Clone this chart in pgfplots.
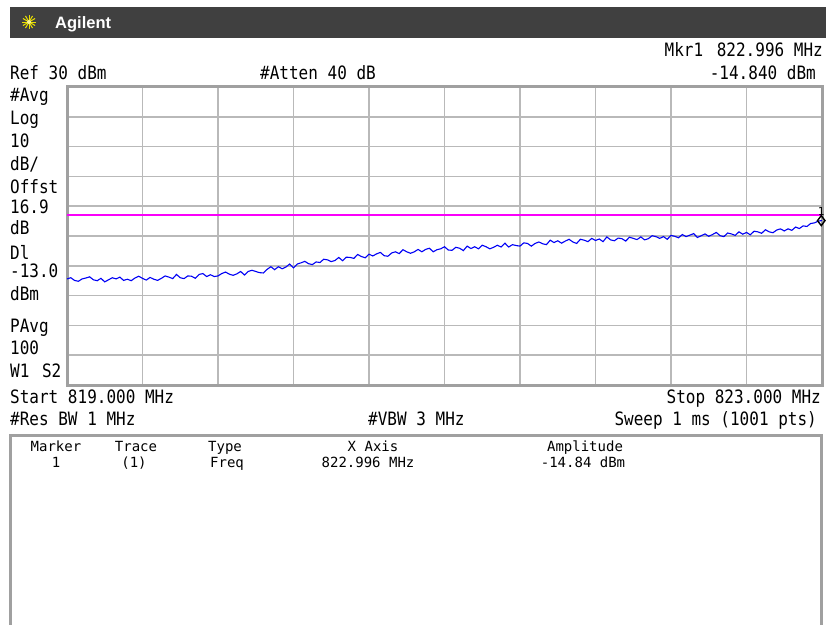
\documentclass[border=0pt]{standalone}
\usepackage{pgfplots}
\pgfplotsset{compat=1.18}
\usepackage{pgfplotstable}
\usepackage{fontspec}
\setmainfont{DejaVu Sans Mono}
\newfontfamily\brand{Liberation Sans}
\definecolor{hdr}{RGB}{64,64,64}
\definecolor{gridc}{RGB}{185,185,185}
\definecolor{framec}{RGB}{160,160,160}
\definecolor{tracec}{RGB}{0,0,245}
\definecolor{dlinec}{RGB}{250,0,250}
\definecolor{starc}{RGB}{235,225,0}
\newcommand\T[1]{{\fontsize{16}{16}\selectfont\scalebox{1}[1.15]{#1}}}
\newcommand\Tb[1]{{\fontsize{14}{14}\selectfont #1}}

% averaged trace, 819-823 MHz, dBm
\pgfplotstableread{
f p
819.00 -34.4
819.02 -34.0
819.04 -34.9
819.06 -35.2
819.08 -34.4
819.10 -34.1
819.12 -33.7
819.14 -34.7
819.16 -35.0
819.18 -34.2
819.20 -35.4
819.22 -34.7
819.24 -34.0
819.26 -34.4
819.28 -33.8
819.30 -34.9
819.32 -34.5
819.34 -35.0
819.36 -34.1
819.38 -33.5
819.40 -34.2
819.42 -34.8
819.44 -33.9
819.46 -34.5
819.48 -34.9
819.50 -34.2
819.52 -33.4
819.54 -33.8
819.56 -34.3
819.58 -32.9
819.60 -34.0
819.62 -34.3
819.64 -33.4
819.66 -33.5
819.68 -34.2
819.70 -32.9
819.72 -32.6
819.74 -33.6
819.76 -33.0
819.78 -33.6
819.80 -33.4
819.82 -32.6
819.84 -32.1
819.86 -32.8
819.88 -33.2
819.90 -32.7
819.92 -31.9
819.94 -33.1
819.96 -31.9
819.98 -31.5
820.00 -31.9
820.02 -32.3
820.04 -32.4
820.06 -31.2
820.08 -30.3
820.10 -31.3
820.12 -30.3
820.14 -31.0
820.16 -30.4
820.18 -29.4
820.20 -30.7
820.22 -29.4
820.24 -29.0
820.26 -28.5
820.28 -29.3
820.30 -29.6
820.32 -28.7
820.34 -28.9
820.36 -27.8
820.38 -28.0
820.40 -28.6
820.42 -28.2
820.44 -27.2
820.46 -28.3
820.48 -27.1
820.50 -27.2
820.52 -27.5
820.54 -26.2
820.56 -26.9
820.58 -27.3
820.60 -26.1
820.62 -26.7
820.64 -26.0
820.66 -25.5
820.68 -26.6
820.70 -26.8
820.72 -25.7
820.74 -25.3
820.76 -25.9
820.78 -24.6
820.80 -25.3
820.82 -25.8
820.84 -25.3
820.86 -24.5
820.88 -25.3
820.90 -24.5
820.92 -24.1
820.94 -25.3
820.96 -24.6
820.98 -24.3
821.00 -23.6
821.02 -24.7
821.04 -24.8
821.06 -23.8
821.08 -24.1
821.10 -24.9
821.12 -23.4
821.14 -24.2
821.16 -23.6
821.18 -24.3
821.20 -23.1
821.22 -23.6
821.24 -24.3
821.26 -23.8
821.28 -23.1
821.30 -23.7
821.32 -22.4
821.34 -23.7
821.36 -22.9
821.38 -23.2
821.40 -23.4
821.42 -22.3
821.44 -22.5
821.46 -23.4
821.48 -22.5
821.50 -22.0
821.52 -22.6
821.54 -22.9
821.56 -21.4
821.58 -22.2
821.60 -21.6
821.62 -22.4
821.64 -21.7
821.66 -21.1
821.68 -22.0
821.70 -22.5
821.72 -21.1
821.74 -21.4
821.76 -21.9
821.78 -20.8
821.80 -21.5
821.82 -21.0
821.84 -21.9
821.86 -20.3
821.88 -21.3
821.90 -21.6
821.92 -20.7
821.94 -20.9
821.96 -21.7
821.98 -20.4
822.00 -20.8
822.02 -21.2
822.04 -20.3
822.06 -21.3
822.08 -20.9
822.10 -19.9
822.12 -20.2
822.14 -20.8
822.16 -20.2
822.18 -21.1
822.20 -19.8
822.22 -20.1
822.24 -20.6
822.26 -19.5
822.28 -20.2
822.30 -19.7
822.32 -19.2
822.34 -20.5
822.36 -19.9
822.38 -19.3
822.40 -20.1
822.42 -19.5
822.44 -18.8
822.46 -19.9
822.48 -20.2
822.50 -19.0
822.52 -19.3
822.54 -19.8
822.56 -18.6
822.58 -19.4
822.60 -18.8
822.62 -19.6
822.64 -18.4
822.66 -18.6
822.68 -19.1
822.70 -17.9
822.72 -18.6
822.74 -18.9
822.76 -18.0
822.78 -17.6
822.80 -18.3
822.82 -17.6
822.84 -18.1
822.86 -17.0
822.88 -17.5
822.90 -16.6
822.92 -16.8
822.94 -15.8
822.96 -15.6
822.98 -15.0
823.00 -14.8
}\tracedata

\begin{document}
\begin{tikzpicture}
\path[use as bounding box] (0pt,0pt) rectangle (826pt,-624pt);

% title bar
\fill[hdr] (10pt,-7pt) rectangle (826pt,-38pt);
\foreach \a in {0,30,...,330}
  \draw[starc, line width=1pt] (29pt,-22pt) -- ++(\a:7pt);
\fill[white!60!starc] (29pt,-22pt) circle (2pt);
\node[anchor=base west, inner sep=0, text=white] at (55pt,-28pt)
  {\brand\bfseries\fontsize{16.5}{16}\selectfont Agilent};

% top annotations
\node[anchor=base east, inner sep=0] at (823pt,-56pt) {\T{Mkr1\hspace{4pt} 822.996 MHz}};
\node[anchor=base east, inner sep=0] at (816pt,-79pt) {\T{-14.840 dBm}};
\node[anchor=base west, inner sep=0] at (10pt,-79pt) {\T{Ref 30 dBm}};
\node[anchor=base west, inner sep=0] at (260pt,-79pt) {\T{\#Atten 40 dB}};

% left column
\node[anchor=base west, inner sep=0] at (10pt,-101pt) {\T{\#Avg}};
\node[anchor=base west, inner sep=0] at (10pt,-124pt) {\T{Log}};
\node[anchor=base west, inner sep=0] at (10pt,-147pt) {\T{10}};
\node[anchor=base west, inner sep=0] at (10pt,-170pt) {\T{dB/}};
\node[anchor=base west, inner sep=0] at (10pt,-193pt) {\T{Offst}};
\node[anchor=base west, inner sep=0] at (10pt,-213pt) {\T{16.9}};
\node[anchor=base west, inner sep=0] at (10pt,-234pt) {\T{dB}};
\node[anchor=base west, inner sep=0] at (10pt,-259pt) {\T{Dl}};
\node[anchor=base west, inner sep=0] at (10pt,-277pt) {\T{-13.0}};
\node[anchor=base west, inner sep=0] at (10pt,-300pt) {\T{dBm}};
\node[anchor=base west, inner sep=0] at (10pt,-332pt) {\T{PAvg}};
\node[anchor=base west, inner sep=0] at (10pt,-354pt) {\T{100}};
\node[anchor=base west, inner sep=0] at (10pt,-377pt) {\T{W1\hspace{3pt} S2}};

% bottom annotations
\node[anchor=base west, inner sep=0] at (10pt,-403pt) {\T{Start 819.000 MHz}};
\node[anchor=base east, inner sep=0] at (821pt,-403pt) {\T{Stop 823.000 MHz}};
\node[anchor=base west, inner sep=0] at (10pt,-425pt) {\T{\#Res BW 1 MHz}};
\node[anchor=base west, inner sep=0] at (368pt,-425pt) {\T{\#VBW 3 MHz}};
\node[anchor=base east, inner sep=0] at (817pt,-425pt) {\T{Sweep 1 ms (1001 pts)}};

% marker table
\draw[framec, line width=3pt] (10pt,-626pt) -- (10pt,-435pt) -- (821pt,-435pt) -- (821pt,-626pt);
\node[anchor=base, inner sep=0] at (56pt,-451pt) {\Tb{Marker}};
\node[anchor=base, inner sep=0] at (136pt,-451pt) {\Tb{Trace}};
\node[anchor=base, inner sep=0] at (225pt,-451pt) {\Tb{Type}};
\node[anchor=base, inner sep=0] at (373pt,-451pt) {\Tb{X Axis}};
\node[anchor=base, inner sep=0] at (585pt,-451pt) {\Tb{Amplitude}};
\node[anchor=base, inner sep=0] at (56pt,-467pt) {\Tb{1}};
\node[anchor=base, inner sep=0] at (134pt,-467pt) {\Tb{(1)}};
\node[anchor=base, inner sep=0] at (227pt,-467pt) {\Tb{Freq}};
\node[anchor=base, inner sep=0] at (368pt,-467pt) {\Tb{822.996 MHz}};
\node[anchor=base, inner sep=0] at (583pt,-467pt) {\Tb{-14.84 dBm}};

\begin{axis}[
    at={(67pt,-385pt)}, anchor=south west,
    scale only axis, width=755pt, height=298pt,
    xmin=819, xmax=823, ymin=-70, ymax=30,
    xtick={819,819.4,819.8,820.2,820.6,821,821.4,821.8,822.2,822.6,823},
    ytick distance=10,
    xticklabels={}, yticklabels={},
    major tick length=0pt,
    grid=major,
    grid style={gridc, line width=1.5pt},
    axis line style={framec, line width=3pt},
    clip=false,
  ]
  % display line
  \addplot[dlinec, line width=1.3pt, no marks] coordinates {(819,-13) (823,-13)};
  % trace
  \addplot[tracec, line width=1.1pt, no marks] table[x=f, y=p] {\tracedata};
  % marker 1
  \addplot[only marks, mark=diamond, mark size=5pt, mark options={black, line width=1.4pt, fill=white}]
    coordinates {(822.996,-14.84)} node[above=5pt, inner sep=0, font=\fontsize{11}{11}\selectfont] {1};
\end{axis}
\end{tikzpicture}
\end{document}
